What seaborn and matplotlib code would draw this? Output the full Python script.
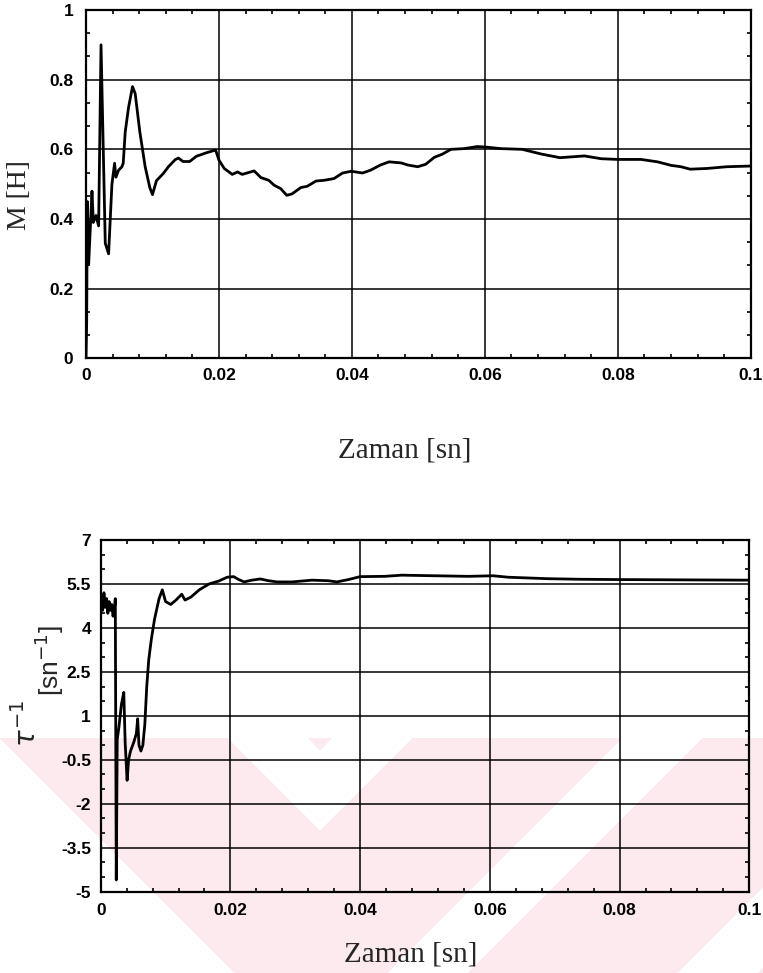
import numpy as np
import pandas as pd
import matplotlib
matplotlib.use("Agg")
import matplotlib.pyplot as plt
import seaborn as sns
from matplotlib.ticker import FixedLocator, MultipleLocator

# ---- mutual inductance estimate M [H] versus time ----
t_m = [0, 0.0001, 0.0002, 0.0004, 0.0009, 0.0011, 0.0015, 0.0019, 0.00226, 0.0029,
       0.0034, 0.0039, 0.0043, 0.0045, 0.0049, 0.0054, 0.0056, 0.0059, 0.0064, 0.0070,
       0.0074, 0.0081, 0.0089, 0.0096, 0.0100, 0.0106, 0.0116, 0.0124, 0.0134, 0.0139,
       0.0146, 0.0156, 0.0166, 0.0181, 0.0195, 0.0200, 0.0208, 0.0220, 0.0228, 0.0235,
       0.0253, 0.0263, 0.0275, 0.0283, 0.0293, 0.0302, 0.0310, 0.0323, 0.0333, 0.0346,
       0.0358, 0.0373, 0.0386, 0.0399, 0.0416, 0.0428, 0.0443, 0.0456, 0.0474, 0.0484,
       0.0499, 0.0511, 0.0524, 0.0536, 0.0549, 0.0569, 0.0589, 0.0604, 0.0624, 0.0656,
       0.0686, 0.0713, 0.0750, 0.0775, 0.0800, 0.0835, 0.0860, 0.0880, 0.0895, 0.0909,
       0.0934, 0.0964, 0.1000]
m_h = [0, 0.10, 0.45, 0.27, 0.48, 0.39, 0.41, 0.38, 0.90, 0.33,
       0.30, 0.50, 0.56, 0.52, 0.54, 0.55, 0.56, 0.65, 0.72, 0.78,
       0.76, 0.65, 0.55, 0.49, 0.47, 0.51, 0.53, 0.55, 0.57, 0.575,
       0.565, 0.565, 0.58, 0.59, 0.598, 0.569, 0.545, 0.528, 0.535, 0.528,
       0.538, 0.519, 0.511, 0.497, 0.487, 0.468, 0.472, 0.490, 0.494, 0.509,
       0.511, 0.516, 0.532, 0.537, 0.532, 0.540, 0.555, 0.564, 0.561, 0.555,
       0.550, 0.557, 0.577, 0.586, 0.600, 0.602, 0.608, 0.606, 0.602, 0.600,
       0.586, 0.576, 0.581, 0.573, 0.571, 0.571, 0.564, 0.554, 0.550, 0.543,
       0.545, 0.550, 0.552]

# ---- inverse time constant 1/tau [1/sn] versus time ----
t_tau = [0.0001, 0.0003, 0.0005, 0.0007, 0.0009, 0.0011, 0.0013, 0.0015, 0.0017, 0.0019,
         0.0021, 0.00225, 0.0024, 0.00255, 0.0028, 0.0032, 0.00356, 0.00377, 0.00407, 0.0043,
         0.0046, 0.0051, 0.0055, 0.0057, 0.0059, 0.0062, 0.0065, 0.0068, 0.0071, 0.0074,
         0.0078, 0.0083, 0.0090, 0.0095, 0.0100, 0.0108, 0.0116, 0.0125, 0.0130, 0.0139,
         0.0152, 0.0167, 0.0182, 0.0195, 0.0205, 0.0213, 0.0221, 0.0233, 0.0246, 0.0259,
         0.0272, 0.0295, 0.0326, 0.0351, 0.0364, 0.0382, 0.0400, 0.0438, 0.0464, 0.0515,
         0.0567, 0.0605, 0.0628, 0.0689, 0.0740, 0.0800, 0.0893, 0.1000]
tau_inv = [5.1, 4.6, 5.2, 4.7, 5.0, 4.5, 4.9, 4.6, 4.8, 4.4,
           4.6, 5.0, -4.6, 0.2, 0.6, 1.4, 1.8, 0.1, -1.2, -0.5,
           -0.2, 0.1, 0.4, 0.9, 0.0, -0.2, 0.0, 0.7, 2.0, 2.9,
           3.6, 4.3, 5.0, 5.3, 4.9, 4.8, 4.95, 5.15, 4.95, 5.05,
           5.3, 5.5, 5.6, 5.73, 5.75, 5.65, 5.57, 5.63, 5.67, 5.61,
           5.57, 5.57, 5.63, 5.61, 5.57, 5.65, 5.75, 5.76, 5.80, 5.78,
           5.76, 5.78, 5.73, 5.68, 5.66, 5.65, 5.64, 5.63]

x_ticks = [0, 0.02, 0.04, 0.06, 0.08, 0.1]
x_tick_labels = ["0", "0.02", "0.04", "0.06", "0.08", "0.1"]
m_ticks = [0, 0.2, 0.4, 0.6, 0.8, 1]
m_tick_labels = ["0", "0.2", "0.4", "0.6", "0.8", "1"]
tau_ticks = [-5, -3.5, -2, -0.5, 1, 2.5, 4, 5.5, 7]
tau_tick_labels = ["-5", "-3.5", "-2", "-0.5", "1", "2.5", "4", "5.5", "7"]

df_m = pd.DataFrame({"t": t_m, "M": m_h})
df_tau = pd.DataFrame({"t": t_tau, "tau_inv": tau_inv})

sns.set_style("white")
plt.rcParams["font.family"] = ["Liberation Sans", "DejaVu Sans"]

W, H = 763, 973
fig = plt.figure(figsize=(W / 100, H / 100), dpi=100)
fig.patch.set_facecolor("white")

# faint pink chevron stamp across the lower part of the page
yy, xx = np.mgrid[0:H, 0:W]
dy = yy - 738
u = xx - dy          # "\" bands
v = xx + dy          # "/" bands
left_pink = ((u >= 0) & (u < 228)) | ((u >= 308) & (u < 518))
right_pink = ~(((v >= 332) & (v < 412)) | ((v >= 622) & (v < 702)) |
               ((v >= 912) & (v < 992)))
stamp = (dy >= 0) & np.where(xx < 320, left_pink, right_pink)
rgba = np.zeros((H, W, 4))
rgba[stamp] = (253 / 255, 234 / 255, 238 / 255, 1.0)
fig.figimage(rgba, xo=0, yo=0, origin="upper", zorder=-1)


def px_box(left, top, right, bottom):
    return [left / W, 1 - bottom / H, (right - left) / W, (bottom - top) / H]


ax1 = fig.add_axes(px_box(86, 10, 750.7, 358.3))
ax2 = fig.add_axes(px_box(100.7, 540, 749.3, 891.7))

sns.lineplot(data=df_m, x="t", y="M", ax=ax1, color="black", linewidth=2.0,
             sort=False, estimator=None)
sns.lineplot(data=df_tau, x="t", y="tau_inv", ax=ax2, color="black", linewidth=2.0,
             sort=False, estimator=None)


def style_axes(ax, yticks, ylabels, ylim, yminor, xpad, ypad):
    ax.set_facecolor("none")
    ax.set_xlim(0, 0.1)
    ax.set_ylim(*ylim)
    ax.xaxis.set_major_locator(FixedLocator(x_ticks))
    ax.set_xticklabels(x_tick_labels)
    ax.yaxis.set_major_locator(FixedLocator(yticks))
    ax.set_yticklabels(ylabels)
    ax.xaxis.set_minor_locator(MultipleLocator(0.004))
    ax.yaxis.set_minor_locator(MultipleLocator(yminor))
    ax.grid(True, which="major", color="black", linewidth=1.1)
    ax.set_axisbelow(True)
    for s in ax.spines.values():
        s.set_visible(True)
        s.set_color("black")
        s.set_linewidth(1.6)
    ax.tick_params(which="major", direction="in", length=0, top=True, right=True,
                   labelsize=12.5, labelcolor="black")
    ax.tick_params(axis="x", which="major", pad=xpad)
    ax.tick_params(axis="y", which="major", pad=ypad)
    ax.tick_params(which="minor", direction="in", length=3, width=1.2, color="black",
                   top=True, right=True, bottom=True, left=True)
    for lab in ax.get_xticklabels() + ax.get_yticklabels():
        lab.set_fontweight("bold")
        lab.set_family(["Liberation Sans", "DejaVu Sans"])
    ax.set_xlabel("")
    ax.set_ylabel("")


style_axes(ax1, m_ticks, m_tick_labels, (0, 1), 0.2 / 3, 7, 9)
style_axes(ax2, tau_ticks, tau_tick_labels, (-5, 7), 0.5, 8, 7)

serif = ["Liberation Serif", "DejaVu Serif"]


def fx(px):
    return px / W


def fy(py):
    return 1 - py / H


fig.text(fx(405), fy(457), "Zaman [sn]", family=serif, fontsize=21,
         ha="center", va="baseline")
fig.text(fx(411), fy(961), "Zaman [sn]", family=serif, fontsize=21,
         ha="center", va="baseline")
fig.text(fx(19), fy(195), "M [H]", family=serif, fontsize=20, rotation=90,
         ha="center", va="center")
fig.text(fx(42), fy(724), r"$\tau^{-1}$", fontsize=20, rotation=90,
         ha="right", va="center")
fig.text(fx(66), fy(661), r"[sn$^{-1}$]", fontsize=19, rotation=90,
         ha="right", va="center")

fig.savefig("out.png", dpi=100, facecolor="white")
